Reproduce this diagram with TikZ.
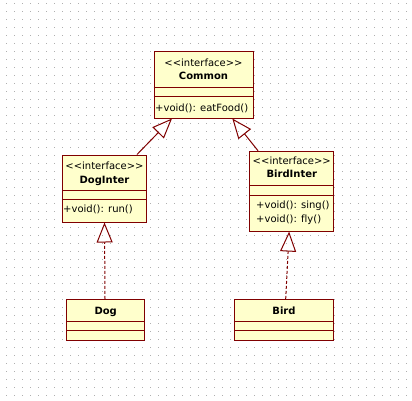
\documentclass[tikz,border=0pt]{standalone}
\usepackage{fontspec}
\setmainfont[Ligatures=NoCommon]{DejaVu Sans}
\usetikzlibrary{arrows.meta}
\definecolor{umlred}{RGB}{128,0,0}
\definecolor{umlfill}{RGB}{255,255,204}
\definecolor{gridgray}{RGB}{175,175,175}
\newcommand{\stereo}{<{}<interface>{}>}
\begin{document}
\begin{tikzpicture}[x=1pt,y=-1pt,
  classbox/.style={draw=umlred, fill=umlfill, line width=1pt, rectangle, inner sep=0pt},
  divider/.style={draw=umlred, line width=1pt},
  txt/.style={inner sep=0pt, anchor=base, font=\fontsize{10}{12}\selectfont},
  bold/.style={txt, font=\fontsize{10}{12}\selectfont\bfseries},
  meth/.style={txt, anchor=base west},
  gen/.style={draw=umlred, line width=1pt, -{Triangle[open, length=20pt, width=16pt]}},
  real/.style={gen, dash pattern=on 3pt off 2pt}]
\useasboundingbox (0,0) rectangle (412,400);
\fill[white] (0,0) rectangle (412,400);
% dotted grid
\foreach \j in {0,...,49}{
  \draw[gridgray, line width=1pt, dash pattern=on 1pt off 7pt] (6,3.5+8*\j) -- (412,3.5+8*\j);
}
% Common
\node[classbox, minimum width=99pt, minimum height=67pt] (common) at (203.5,84.5) {};
\draw[divider] (common.west |- 0,87) -- (common.east |- 0,87);
\draw[divider] (common.west |- 0,96) -- (common.east |- 0,96);
\node[txt] (commonst) at (203.5,66.5) {\stereo};
\node[bold] (commonname) at (203.5,79) {Common};
\node[meth] (commonm) at (155,111) {+void(): eatFood()};
% DogInter
\node[classbox, minimum width=84.4pt, minimum height=67pt] (doginter) at (104.5,188.5) {};
\draw[divider] (doginter.west |- 0,190) -- (doginter.east |- 0,190);
\draw[divider] (doginter.west |- 0,199.3) -- (doginter.east |- 0,199.3);
\node[txt] (doginterst) at (104.5,169) {\stereo};
\node[bold] (dogintername) at (104.5,183) {DogInter};
\node[meth] (doginterm) at (63,212.7) {+void(): run()};
% BirdInter
\node[classbox, minimum width=84.3pt, minimum height=79.7pt] (birdinter) at (291.8,191.2) {};
\draw[divider] (birdinter.west |- 0,185.7) -- (birdinter.east |- 0,185.7);
\draw[divider] (birdinter.west |- 0,195.5) -- (birdinter.east |- 0,195.5);
\node[txt] (birdinterst) at (291.8,164.5) {\stereo};
\node[bold] (birdintername) at (291.8,177) {BirdInter};
\node[meth] (birdinterm1) at (256,208) {+void(): sing()};
\node[meth] (birdinterm2) at (256,222) {+void(): fly()};
% Dog
\node[classbox, minimum width=78pt, minimum height=40.7pt] (dog) at (105.7,319.7) {};
\draw[divider] (dog.west |- 0,321) -- (dog.east |- 0,321);
\draw[divider] (dog.west |- 0,330.7) -- (dog.east |- 0,330.7);
\node[bold] (dogname) at (105.7,314) {Dog};
% Bird
\node[classbox, minimum width=99.4pt, minimum height=40.7pt] (bird) at (284,319.7) {};
\draw[divider] (bird.west |- 0,321) -- (bird.east |- 0,321);
\draw[divider] (bird.west |- 0,330.7) -- (bird.east |- 0,330.7);
\node[bold] (birdname) at (284,314) {Bird};
% connectors
\draw[gen] ([xshift=32.5pt]doginter.north) -- ([xshift=-31.5pt]common.south);
\draw[gen] ([xshift=-33.7pt]birdinter.north) -- ([xshift=28.8pt]common.south);
\draw[real] ([xshift=-0.7pt]dog.north) -- (doginter.south);
\draw[real] ([xshift=1.7pt]bird.north) -- ([xshift=-2.7pt]birdinter.south);
\end{tikzpicture}
\end{document}
